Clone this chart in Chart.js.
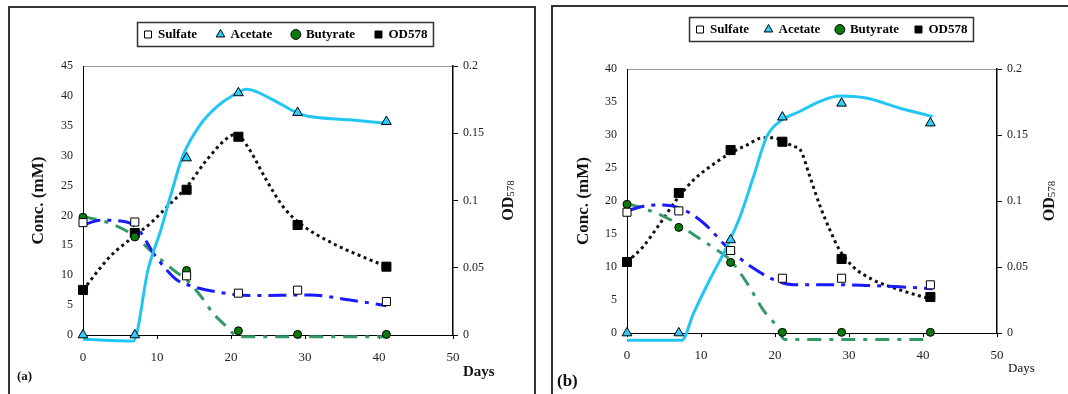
<!DOCTYPE html>
<html>
<head>
<meta charset="utf-8">
<script src="https://cdn.jsdelivr.net/npm/chart.js@4.4.1/dist/chart.umd.min.js"></script>
<style>
  html, body { margin: 0; padding: 0; background: #fff; overflow: hidden; width: 1068px; height: 394px; }
  .panel { position: absolute; border: 2px solid #333; border-bottom: none; }
  #boxA { left: 8px; top: 6px; width: 524px; height: 400px; }
  #boxB { left: 551px; top: 5px; width: 560px; height: 400px; }
  canvas { position: absolute; }
  #chartA { left: 10px; top: 8px; }
  #chartB { left: 553px; top: 7px; }
</style>
</head>
<body>
<div class="panel" id="boxA"></div>
<div class="panel" id="boxB"></div>
<canvas id="chartA" width="552" height="386"></canvas>
<canvas id="chartB" width="558" height="387"></canvas>
<script>
const days = [0, 7, 14, 21, 29, 41];

// panel (a) measured points
const sulfateA  = [18.8, 18.9, 9.9, 7.0, 7.5, 5.6];
const acetateA  = [0, 0, 29.6, 40.5, 37.2, 35.7];
const butyrateA = [19.7, 16.4, 10.8, 0.7, 0.1, 0.1];
const odA       = [0.0335, 0.0758, 0.108, 0.1474, 0.0818, 0.0508];

// panel (a) smoothed trend curves, [day, value]
const sulfateFitA  = [[0,18.4],[2.3,19.2],[5.9,18.9],[7.7,17.3],[9.5,13.7],[11.3,10.9],[12.7,9.2],[14.9,8.1],[18.1,7.2],[22.6,6.6],[30.7,6.7],[36.1,5.85],[41,4.9]];
const acetateFitA  = [[0,-0.7],[6.8,-1.0],[8.8,11],[10.5,17.5],[12,24],[13.5,30],[15.8,35.1],[18.1,38.2],[20.3,40.1],[22.1,41.1],[25.3,39.6],[29,37.1],[30.4,36.6],[36,36],[41.3,35.4]];
const butyrateFitA = [[0,19.8],[3.6,18.7],[6.8,16.7],[9.5,13.7],[12.2,10.9],[14,9.2],[15.8,6.7],[17.6,3.6],[19.4,1.4],[20.5,0],[21,-0.3],[41,-0.3]];
const odFitA       = [[0,0.0334],[3.6,0.058],[6.8,0.073],[9.1,0.083],[11.3,0.095],[14,0.110],[16.7,0.130],[19.4,0.146],[20.5,0.149],[21.3,0.147],[22.6,0.137],[24.8,0.115],[27.1,0.095],[29.3,0.083],[33.8,0.068],[38.3,0.057],[41,0.051]];

// panel (b) measured points
const sulfateB  = [18.3, 18.5, 12.5, 8.3, 8.3, 7.3];
const acetateB  = [0, 0, 14.1, 32.7, 34.8, 31.8];
const butyrateB = [19.5, 16.0, 10.7, 0.1, 0.1, 0.1];
const odB       = [0.0538, 0.1061, 0.1386, 0.1449, 0.0561, 0.0273];

// panel (b) smoothed trend curves
const sulfateFitB  = [[0,18.5],[2.2,19.2],[4.5,19.4],[7.2,18.9],[10.3,16.7],[13.9,12.6],[17.1,9.8],[19.8,8.1],[22.5,7.3],[28.7,7.3],[32.3,7.2],[36.8,7.0],[41.3,6.7]];
const acetateFitB  = [[0,-1.1],[7.4,-1.1],[9.0,3.0],[11.2,8.1],[13.5,13.1],[15.3,17.7],[17.1,23.7],[18.9,29.8],[20.7,32.1],[23.4,33.6],[26.1,35.1],[28.7,35.9],[32.3,35.6],[36.8,34.1],[41.3,32.8]];
const butyrateFitB = [[0,19.6],[2.7,18.7],[5.8,17.2],[9.0,14.9],[11.7,12.9],[13.9,11.1],[16.2,7.6],[18.4,3.5],[20.2,1.0],[20.9,-0.5],[21.3,-1.0],[41.1,-1.0]];
const odFitB       = [[0,0.0538],[2.2,0.0656],[4.5,0.0833],[6.7,0.101],[9.0,0.116],[11.2,0.126],[13.9,0.136],[16.2,0.1424],[18.4,0.148],[19.7,0.148],[22.5,0.1414],[23.4,0.1389],[24.7,0.1187],[26.1,0.096],[27.4,0.0783],[28.7,0.0631],[30.5,0.0505],[33.2,0.0404],[36.8,0.0328],[40.9,0.0258]];

const yTicksA = { max: 45, step: 5 };
const yTicksB = { max: 40, step: 5 };

Chart.defaults.font.family = '"Liberation Serif", "Times New Roman", serif';
Chart.defaults.color = '#222';

const SERIF = '"Liberation Serif", "Times New Roman", serif';

const pts = (xs, ys) => xs.map((x, i) => ({ x, y: ys[i] }));
const curve = arr => arr.map(([x, y]) => ({ x, y }));

// axis titles, panel letter and legend frame
const panelText = {
  id: 'panelText',
  afterDraw(chart, args, o) {
    const { ctx, chartArea: area } = chart;
    const midY = (area.top + area.bottom) / 2;
    ctx.save();
    ctx.fillStyle = '#111';
    ctx.textBaseline = 'alphabetic';

    // left title
    ctx.save();
    ctx.translate(o.concX, midY);
    ctx.rotate(-Math.PI / 2);
    ctx.font = 'bold 17px ' + SERIF;
    ctx.textAlign = 'center';
    ctx.textBaseline = 'middle';
    ctx.fillText('Conc. (mM)', 0, 0);
    ctx.restore();

    // right title OD578
    ctx.save();
    ctx.translate(o.odX, midY);
    ctx.rotate(-Math.PI / 2);
    ctx.font = 'bold 16px ' + SERIF;
    const w1 = ctx.measureText('OD').width;
    ctx.font = '11px ' + SERIF;
    const w2 = ctx.measureText('578').width;
    const x0 = -(w1 + w2) / 2;
    ctx.textAlign = 'left';
    ctx.font = 'bold 16px ' + SERIF;
    ctx.fillText('OD', x0, 6);
    ctx.font = '11px ' + SERIF;
    ctx.fillText('578', x0 + w1, 7);
    ctx.restore();

    // Days
    ctx.textAlign = 'left';
    ctx.textBaseline = 'middle';
    ctx.font = o.daysFont;
    ctx.fillText('Days', o.daysX, o.daysY);

    // panel letter
    ctx.font = o.tagFont;
    ctx.fillText(o.tag, o.tagX, o.tagY);

    // legend frame
    const hb = chart.legend.legendHitBoxes;
    if (hb && hb.length) {
      const first = hb[0], last = hb[hb.length - 1];
      const cy = first.top + first.height / 2;
      ctx.strokeStyle = '#333';
      ctx.lineWidth = 1.5;
      ctx.strokeRect(first.left - 7, cy - 12, last.left + last.width + 6 - (first.left - 7), 24);
    }
    ctx.restore();
  }
};

function buildChart(id, p) {
  const fitLine = (label, data, color, dash, axis) => ({
    label, data: curve(data), yAxisID: axis,
    borderColor: color, backgroundColor: color, borderWidth: 3, borderDash: dash,
    pointRadius: 0, fill: false, cubicInterpolationMode: 'monotone', clip: false
  });
  return new Chart(document.getElementById(id), {
    type: 'line',
    data: {
      datasets: [
        { label: 'Sulfate', data: pts(days, p.sulfate), yAxisID: 'y', showLine: false, clip: false,
          pointStyle: 'rect', pointRadius: 5.7, pointBackgroundColor: '#fff', pointBorderColor: '#000',
          pointBorderWidth: 1, borderColor: '#000', backgroundColor: '#fff' },
        { label: 'Acetate', data: pts(days, p.acetate), yAxisID: 'y', showLine: false, clip: false,
          pointStyle: 'triangle', pointRadius: 5.6, pointBackgroundColor: '#33ccff', pointBorderColor: '#000',
          pointBorderWidth: 1, borderColor: '#000', backgroundColor: '#33ccff' },
        { label: 'Butyrate', data: pts(days, p.butyrate), yAxisID: 'y', showLine: false, clip: false,
          pointStyle: 'circle', pointRadius: 4, pointBackgroundColor: '#0b7a0b', pointBorderColor: '#000',
          pointBorderWidth: 1, borderColor: '#000', backgroundColor: '#0b7a0b' },
        { label: 'OD578', data: pts(days, p.od), yAxisID: 'y1', showLine: false, clip: false,
          pointStyle: 'rect', pointRadius: 6.4, pointBackgroundColor: '#000', pointBorderColor: '#000',
          pointBorderWidth: 1, borderColor: '#000', backgroundColor: '#000' },
        fitLine('acetateFit', p.acetateFit, '#22c6f2', [], 'y'),
        fitLine('sulfateFit', p.sulfateFit, '#1a1aff', [18, 7, 4, 7], 'y'),
        fitLine('butyrateFit', p.butyrateFit, '#339966', [14, 8, 4, 8], 'y'),
        fitLine('odFit', p.odFit, '#111', [3, 3.5], 'y1')
      ]
    },
    plugins: [panelText],
    options: {
      responsive: false,
      animation: false,
      events: [],
      layout: { padding: 0 },
      plugins: {
        tooltip: { enabled: false },
        legend: {
          position: 'top',
          labels: {
            filter: item => item.datasetIndex < 4,
            usePointStyle: true,
            boxWidth: 7,
            boxHeight: 7,
            padding: p.legendPad,
            color: '#000',
            font: { size: 13, weight: 'bold', family: SERIF }
          }
        },
        panelText: p.text
      },
      scales: {
        x: {
          type: 'linear', position: 'bottom', min: 0, max: 50,
          ticks: { stepSize: 10, maxRotation: 0, padding: 11, color: '#222', font: { size: 13 } },
          grid: { drawOnChartArea: false, tickLength: 4, color: '#000' },
          border: { color: '#000', width: 1 },
          afterFit: s => { s.height = p.xAxisH; }
        },
        xTop: {
          type: 'linear', position: 'top', min: 0, max: 50,
          ticks: { display: false },
          grid: { display: false, drawTicks: false },
          border: { display: true, color: '#999', width: 1 },
          afterFit: s => { s.height = p.topGap; }
        },
        y: {
          position: 'left', min: 0, max: p.yTicks.max,
          ticks: { stepSize: p.yTicks.step, padding: 10, color: '#222', font: { size: 12 } },
          grid: { drawOnChartArea: false, drawTicks: false },
          border: { color: '#000', width: 1 },
          afterFit: s => { s.width = p.leftW; }
        },
        y1: {
          position: 'right', min: 0, max: 0.2,
          ticks: { stepSize: 0.05, padding: 5, color: '#222', font: { size: 12 },
                   callback: v => String(+v.toFixed(2)) },
          grid: { drawOnChartArea: false, tickLength: 5, color: '#000' },
          border: { color: '#000', width: 1.5 },
          afterFit: s => { s.width = p.rightW; }
        }
      }
    }
  });
}

buildChart('chartA', {
  sulfate: sulfateA, acetate: acetateA, butyrate: butyrateA, od: odA,
  sulfateFit: sulfateFitA, acetateFit: acetateFitA, butyrateFit: butyrateFitA, odFit: odFitA,
  yTicks: yTicksA, leftW: 73, rightW: 109, xAxisH: 59, legendPad: 20, topGap: 15,
  text: { concX: 29, odX: 497, daysX: 453, daysY: 364, daysFont: 'bold 15px ' + SERIF,
          tag: '(a)', tagX: 7, tagY: 369, tagFont: 'bold 13px ' + SERIF }
});

buildChart('chartB', {
  sulfate: sulfateB, acetate: acetateB, butyrate: butyrateB, od: odB,
  sulfateFit: sulfateFitB, acetateFit: acetateFitB, butyrateFit: butyrateFitB, odFit: odFitB,
  yTicks: yTicksB, leftW: 74, rightW: 114, xAxisH: 61, legendPad: 16, topGap: 23,
  text: { concX: 31, odX: 495, daysX: 455, daysY: 362, daysFont: '13px ' + SERIF,
          tag: '(b)', tagX: 4, tagY: 375, tagFont: 'bold 17px ' + SERIF }
});
</script>
</body>
</html>
